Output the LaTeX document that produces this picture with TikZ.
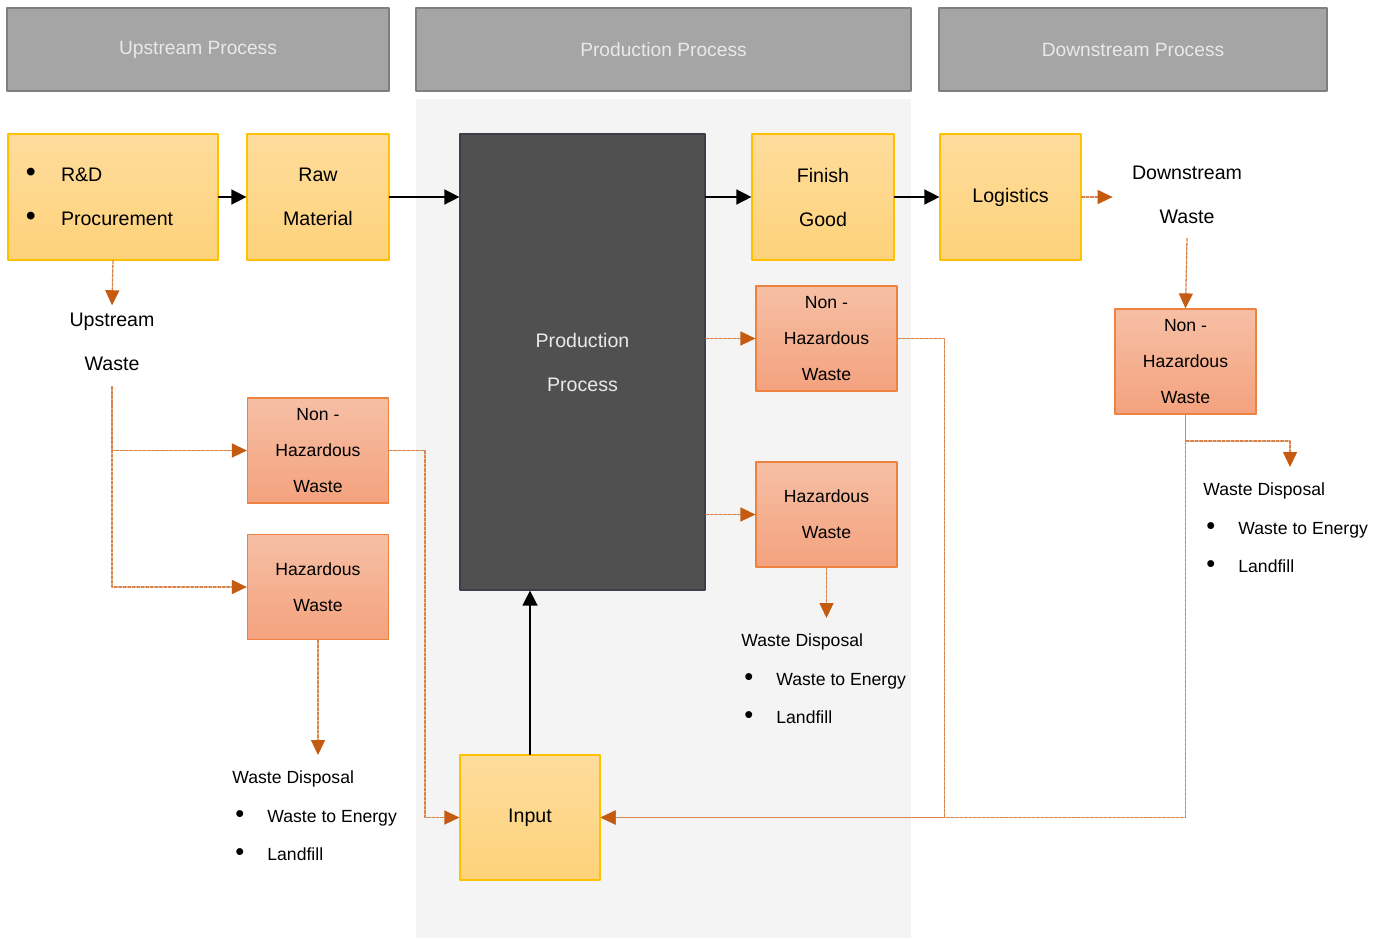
\documentclass[tikz,border=0pt]{standalone}
\usepackage{fontspec}
\setmainfont{Liberation Sans}
\usetikzlibrary{arrows.meta}
\definecolor{hdrfill}{HTML}{A5A5A5}
\definecolor{hdrline}{HTML}{7F7F7F}
\definecolor{hdrtext}{HTML}{E9E9E9}
\definecolor{panel}{HTML}{F4F4F4}
\definecolor{ytop}{HTML}{FEDC9C}
\definecolor{ybot}{HTML}{FDD27A}
\definecolor{yline}{HTML}{FFC000}
\definecolor{otop}{HTML}{F6BFA5}
\definecolor{obot}{HTML}{F4A27E}
\definecolor{oline}{HTML}{EE8240}
\definecolor{prodfill}{HTML}{505050}
\definecolor{prodline}{HTML}{3A3F4A}
\definecolor{wline}{HTML}{D9834A}
\definecolor{wtip}{HTML}{C55A11}
\newcommand{\bitem}[2][17.5pt]{\makebox[#1][l]{\hspace{#2}\scalebox{1.45}{\textbullet}}}

\begin{document}
\begin{tikzpicture}[x=0.5pt,y=-0.5pt,line cap=round,line join=round,
  hdr/.style={draw=hdrline,line width=1pt,fill=hdrfill,text=hdrtext,minimum height=41.5pt,inner sep=0pt,font=\fontsize{9.6}{12}\selectfont},
  ybox/.style={draw=yline,line width=0.6pt,top color=ytop,bottom color=ybot,inner sep=0pt,align=center,font=\fontsize{9.8}{22}\selectfont},
  obox/.style={draw=oline,line width=0.6pt,top color=otop,bottom color=obot,minimum width=70.5pt,minimum height=52.5pt,inner sep=0pt,align=center,font=\fontsize{8.8}{18}\selectfont},
  lbl/.style={align=center,inner sep=2pt,font=\fontsize{9.8}{22}\selectfont},
  lst/.style={anchor=north west,align=left,inner xsep=0pt,inner ysep=7.75pt,font=\fontsize{8.8}{19.3}\selectfont},
  flow/.style={line width=0.75pt,-{Triangle[length=7.5pt,width=7.5pt]}},
  waste/.style={draw=wline,line width=0.65pt,dash pattern=on 1.5pt off 0.75pt,-{Triangle[length=7.5pt,width=7pt,color=wtip]}}]
\useasboundingbox (0,0) rectangle (1390,938);
\fill [panel] (416,99) rectangle (911,938);

\node [hdr,minimum width=191pt] (hup) at (198,49.5) {Upstream Process};
\node [hdr,minimum width=247.5pt] (hpr) at (663.5,49.5) {Production Process};
\node [hdr,minimum width=194pt] (hdn) at (1133,49.5) {Downstream Process};

\node [ybox,minimum width=105pt,minimum height=63pt,text width=95pt,align=left] (rd) at (113,197)
  {\bitem[21.5pt]{4pt}R\&D\\\bitem[21.5pt]{4pt}Procurement};
\node [ybox,minimum width=71pt,minimum height=63pt] (raw) at (318,197) {Raw\\Material};
\node [draw=prodline,line width=0.6pt,fill=prodfill,text=hdrtext,minimum width=122.5pt,minimum height=228pt,align=center,font=\fontsize{9.8}{22}\selectfont] (prod) at (582.5,362) {Production\\Process};
\node [ybox,minimum width=71pt,minimum height=63pt] (fin) at (823,197) {Finish\\Good};
\node [ybox,minimum width=70.5pt,minimum height=63pt] (logis) at (1010.5,197) {Logistics};
\node [ybox,minimum width=70pt,minimum height=62.5pt] (input) at (530,817.5) {Input};

\node [obox] (nhp) at (826.5,338.5) {Non -\\Hazardous\\Waste};
\node [obox] (hzp) at (826.5,514.5) {Hazardous\\Waste};
\node [obox] (nhu) at (318,450.5) {Non -\\Hazardous\\Waste};
\node [obox] (hzu) at (318,587) {Hazardous\\Waste};
\node [obox] (nhd) at (1185.5,361.5) {Non -\\Hazardous\\Waste};

\node [lbl,inner ysep=3.75pt] (upw) at (112,342) {Upstream\\Waste};
\node [lbl,inner xsep=9.5pt] (dnw) at (1187,195) {Downstream\\Waste};

\node [lst] (dsu) at (232,755) {Waste Disposal\\\bitem{1.5pt}Waste to Energy\\\bitem{1.5pt}Landfill};
\node [lst] (dsp) at (741,618) {Waste Disposal\\\bitem{1.5pt}Waste to Energy\\\bitem{1.5pt}Landfill};
\node [lst] (dsd) at (1203,467) {Waste Disposal\\\bitem{1.5pt}Waste to Energy\\\bitem{1.5pt}Landfill};
\coordinate (dd) at (1290,441);

\draw [flow] (rd.east) -- (raw.west);
\draw [flow] (raw.east) -- (prod.west |- raw.east);
\draw [flow] (prod.east |- fin.west) -- (fin.west);
\draw [flow] (fin.east) -- (logis.west);
\draw [flow] (input.north) -- (input.north |- prod.south);

\draw [waste] (rd.south) -- (upw.north);
\draw [waste] ([yshift=-4pt]upw.south) |- (nhu.west);
\draw [waste] ([yshift=-4pt]upw.south) |- (hzu.west);
\draw [waste] (hzu.south) -- (hzu.south |- dsu.north);
\draw [waste] (nhu.east) -- ++(36,0) |- (input.west);
\draw [waste] (prod.east |- nhp.west) -- (nhp.west);
\draw [waste] (prod.east |- hzp.west) -- (hzp.west);
\draw [waste] (hzp.south) -- (hzp.south |- dsp.north);
\draw [waste] (nhp.east) -- ++(47,0) |- (input.east);
\draw [waste] (logis.east) -- (logis.east -| dnw.west);
\draw [waste] ([yshift=-5pt]dnw.south) -- (nhd.north);
\draw [waste] (nhd.south) |- (input.east);
\draw [waste] (nhd.south) |- (dd) -- (dd |- dsd.north);
\end{tikzpicture}
\end{document}
